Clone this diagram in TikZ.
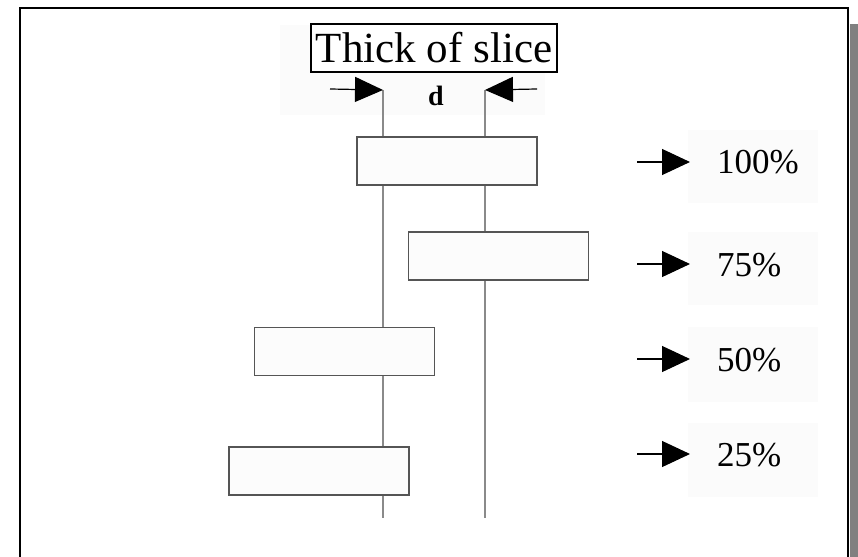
\documentclass[tikz,border=0pt]{standalone}
\usepackage{fontspec}
\setmainfont{Liberation Serif}
\usetikzlibrary{arrows.meta}
\definecolor{linegray}{HTML}{8A8A8A}
\definecolor{boxedge}{HTML}{555555}
\definecolor{boxfill}{HTML}{FCFCFC}
\definecolor{bgfaint}{HTML}{FBFBFB}
\definecolor{shadowgray}{HTML}{808080}
\begin{document}
\begin{tikzpicture}[x=1pt,y=-1pt,
  slicebox/.style={draw=boxedge,line width=1.8pt,fill=boxfill,minimum width=180pt,minimum height=48pt,inner sep=0pt},
  axisline/.style={draw=linegray,line width=2pt},
  pointer/.style={draw=black,line width=1.2pt,-{Triangle[length=28pt,width=26pt]}},
  pct/.style={font=\fontsize{35}{38}\selectfont,anchor=base west,inner sep=0pt},
  labelbg/.style={fill=bgfaint,draw=none}]
\clip (0,0) rectangle (858,556);
\useasboundingbox (0,0) rectangle (858,556);
% frame and shadow
\fill[shadowgray] (850,24) rectangle (858,560);
\fill[white] (19,8) rectangle (849,560);
\draw[black,line width=2pt] (19.5,600) -- (19.5,8.5) -- (848,8.5) -- (848,600);
% faint backgrounds
\fill[bgfaint] (280,25) rectangle (545,115);
\fill[labelbg] (688,130) rectangle (818,203);
\fill[labelbg] (688,232) rectangle (818,305);
\fill[labelbg] (688,327) rectangle (818,402);
\fill[labelbg] (688,423) rectangle (818,497);
% vertical lines
\coordinate (lt) at (383,90);
\coordinate (lb) at (383,518);
\coordinate (rt) at (485,90);
\coordinate (rb) at (485,518);
\draw[axisline] (lt) -- (lb);
\draw[axisline] (rt) -- (rb);
% slices
\node[slicebox] (b1) at (447,161) {};
\node[slicebox] (b2) at (498.5,256) {};
\node[slicebox] (b3) at (344.5,351.5) {};
\node[slicebox] (b4) at (319,471) {};
% title
\node[draw=black,line width=1.5pt,fill=white,minimum width=246pt,minimum height=48pt,inner sep=0pt,
  font=\fontsize{43}{46}\selectfont] (title) at (434,48) {Thick of slice};
% d arrows
\coordinate (la) at (330,89);
\coordinate (ra) at (537,89);
\draw[pointer,{Triangle[length=28pt,width=25pt]}-] (lt) -- (la);
\draw[pointer,-{Triangle[length=28pt,width=25pt]}] (ra) -- (rt);
\node[font=\fontsize{28}{30}\selectfont\bfseries,anchor=base,inner sep=0pt] (d) at (436,106) {d};
% percentage labels
\node[pct] (p1) at (717,174) {100\%};
\node[pct] (p2) at (717,276) {75\%};
\node[pct] (p3) at (717,371) {50\%};
\node[pct] (p4) at (717,466) {25\%};
\coordinate (a1) at (637,162);
\coordinate (a2) at (637,264);
\coordinate (a3) at (637,359);
\coordinate (a4) at (637,454);
\coordinate (t1) at (690,162);
\coordinate (t2) at (690,264);
\coordinate (t3) at (690,359);
\coordinate (t4) at (690,454);
\draw[pointer] (a1) -- (t1);
\draw[pointer] (a2) -- (t2);
\draw[pointer] (a3) -- (t3);
\draw[pointer] (a4) -- (t4);
\end{tikzpicture}
\end{document}
